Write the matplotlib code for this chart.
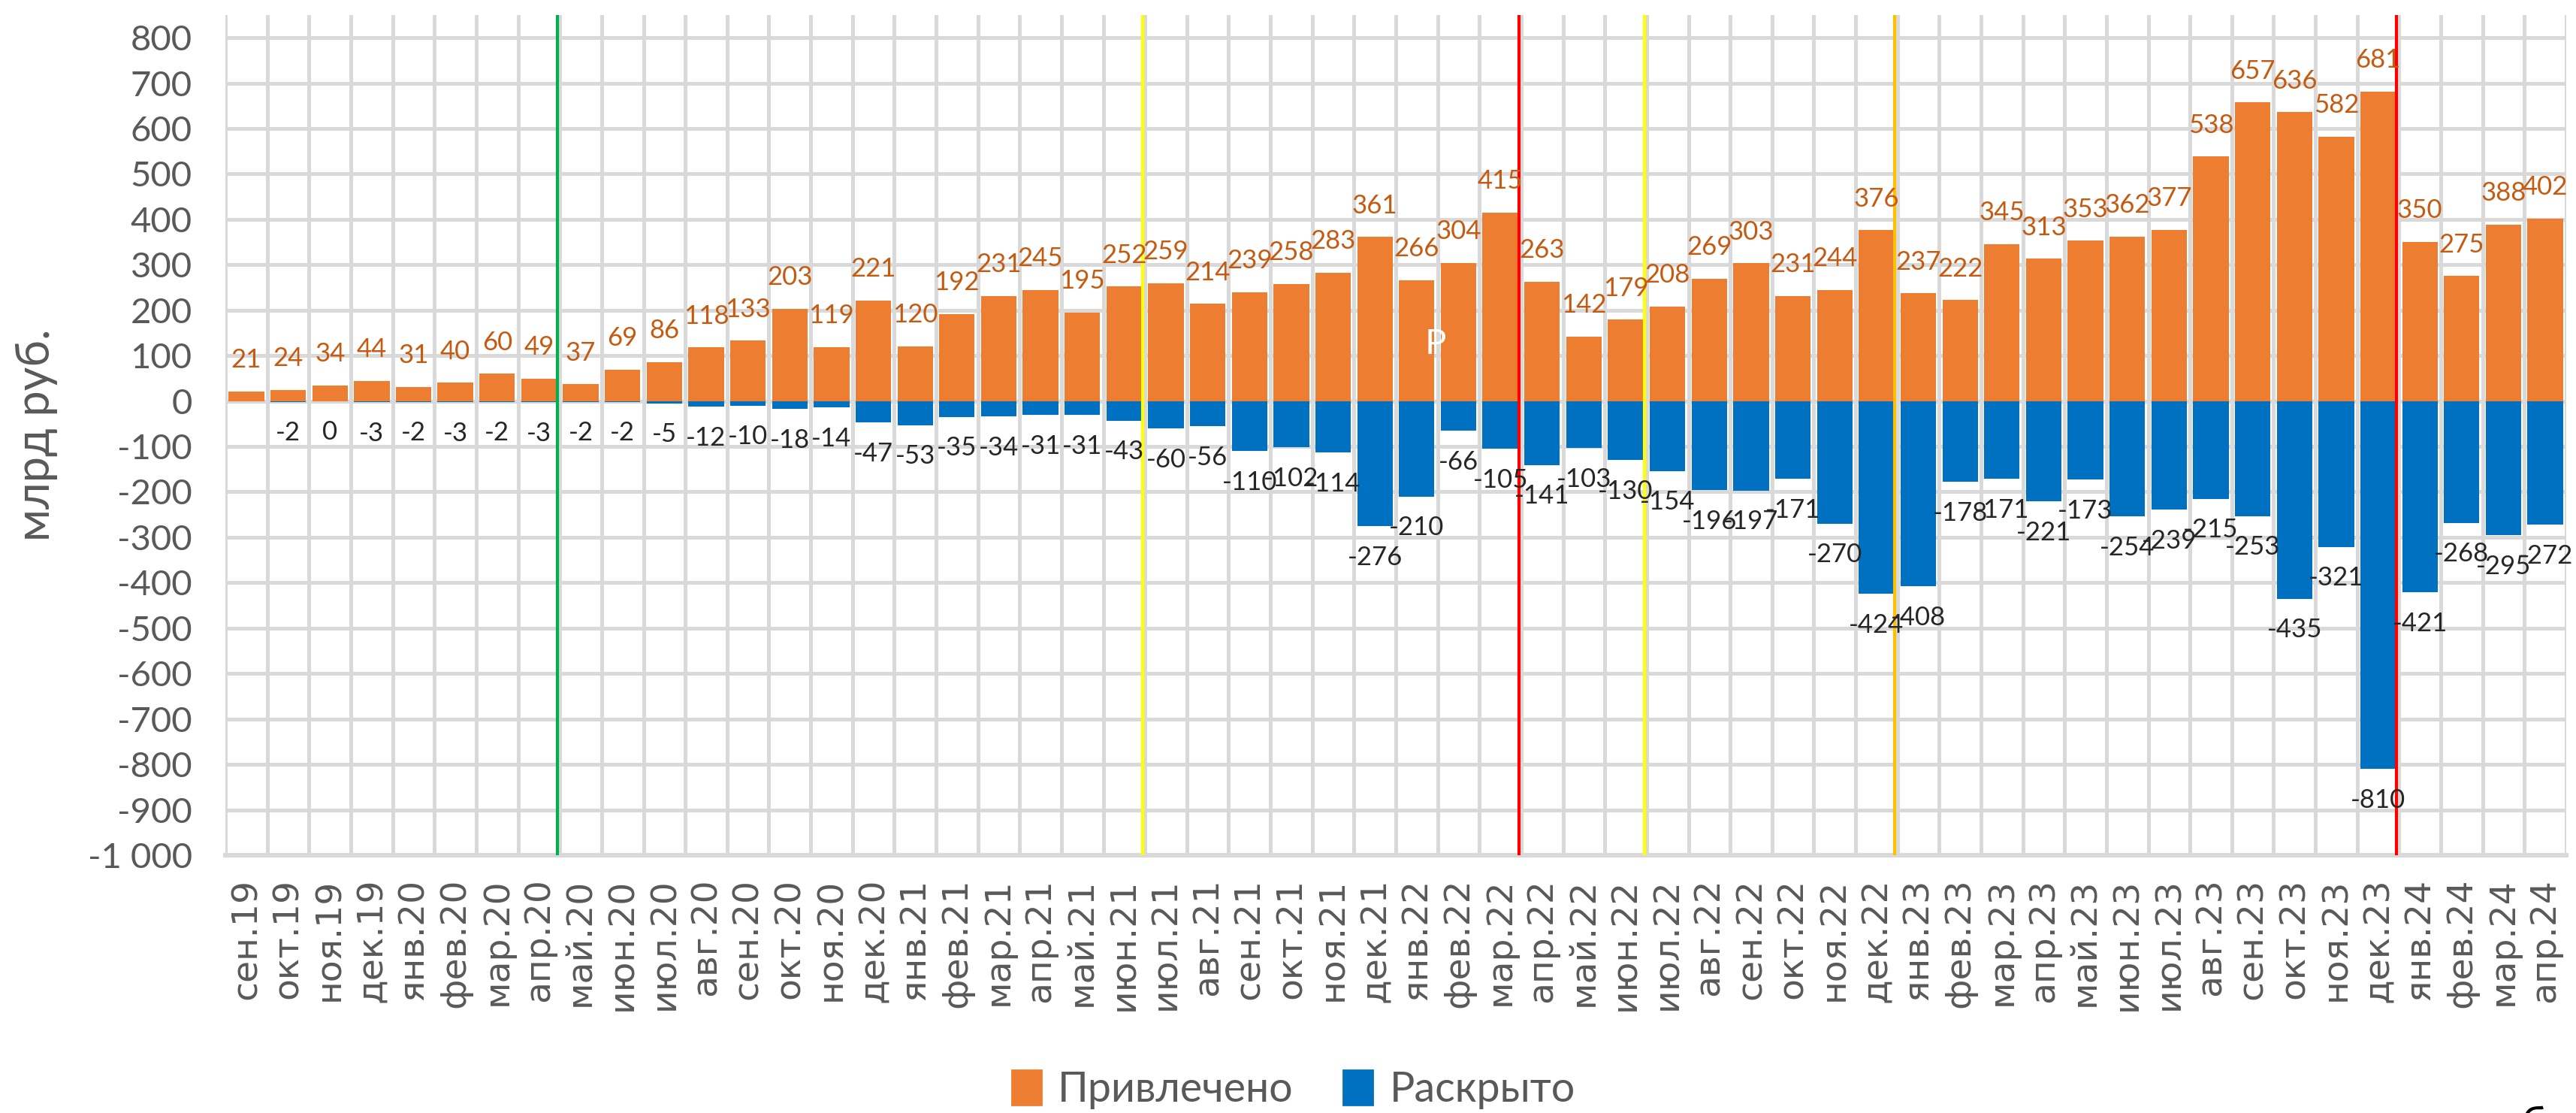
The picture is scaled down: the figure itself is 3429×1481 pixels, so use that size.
import matplotlib.pyplot as plt
import matplotlib.patches as mpatches
import numpy as np

months = ['сен.19', 'окт.19', 'ноя.19', 'дек.19',
          'янв.20', 'фев.20', 'мар.20', 'апр.20', 'май.20', 'июн.20',
          'июл.20', 'авг.20', 'сен.20', 'окт.20', 'ноя.20', 'дек.20',
          'янв.21', 'фев.21', 'мар.21', 'апр.21', 'май.21', 'июн.21',
          'июл.21', 'авг.21', 'сен.21', 'окт.21', 'ноя.21', 'дек.21',
          'янв.22', 'фев.22', 'мар.22', 'апр.22', 'май.22', 'июн.22',
          'июл.22', 'авг.22', 'сен.22', 'окт.22', 'ноя.22', 'дек.22',
          'янв.23', 'фев.23', 'мар.23', 'апр.23', 'май.23', 'июн.23',
          'июл.23', 'авг.23', 'сен.23', 'окт.23', 'ноя.23', 'дек.23',
          'янв.24', 'фев.24', 'мар.24', 'апр.24']

privlecheno = [21, 24, 34, 44,
               31, 40, 60, 49, 37, 69, 86, 118, 133, 203, 119, 221,
               120, 192, 231, 245, 195, 252, 259, 214, 239, 258, 283, 361,
               266, 304, 415, 263, 142, 179, 208, 269, 303, 231, 244, 376,
               237, 222, 345, 313, 353, 362, 377, 538, 657, 636, 582, 681,
               350, 275, 388, 402]

# first month has no disclosed value
raskryto = [np.nan, -2, 0, -3,
            -2, -3, -2, -3, -2, -2, -5, -12, -10, -18, -14, -47,
            -53, -35, -34, -31, -31, -43, -60, -56, -110, -102, -114, -276,
            -210, -66, -105, -141, -103, -130, -154, -196, -197, -171, -270, -424,
            -408, -178, -171, -221, -173, -254, -239, -215, -253, -435, -321, -810,
            -421, -268, -295, -272]

# event markers: (month index after which the line is drawn, colour)
event_after = [7, 21, 30, 33, 39, 51]
event_colors = ['#00B050', '#FFFF00', '#FF0000', '#FFFF00', '#FFC000', '#FF0000']

orange = '#ED7D31'
blue = '#0070C0'
grey_text = '#595959'
grid_c = '#D9D9D9'

fig = plt.figure(figsize=(17.15, 7.405), dpi=200)
ax = fig.add_axes([0.0875, 0.2316, 0.9084, 0.755])

x = np.arange(len(months))
ax.bar(x, privlecheno, width=0.85, color=orange, zorder=3)
ax.bar(x, raskryto, width=0.85, color=blue, zorder=3)

for xi, v in zip(x, privlecheno):
    ax.annotate(str(v), (xi, v), xytext=(0, 15), textcoords='offset points',
                ha='center', va='center', fontsize=12.5, family='Lato',
                color='#C55A11', zorder=5)
for xi, v in zip(x, raskryto):
    if np.isnan(v):
        continue
    ax.annotate(str(int(v)), (xi, v), xytext=(0, -15), textcoords='offset points',
                ha='center', va='center', fontsize=12.5, family='Lato',
                color='#262626', zorder=5)

for i, c in zip(event_after, event_colors):
    ax.axvline(i + 0.44, color=c, lw=1.5, zorder=4)

ax.text(28.45, 125, 'Р', color='white', fontsize=17, family='Lato',
        ha='center', va='center', zorder=5)

ax.set_xlim(-0.5, len(months) - 0.5)
ax.set_ylim(-1000, 850)
ax.set_yticks(np.arange(-1000, 801, 100))
ax.set_yticklabels(['-1 000' if t == -1000 else str(t) for t in range(-1000, 801, 100)],
                   family='Lato', fontsize=17, color=grey_text)
ax.set_xticks(x)
ax.set_xticklabels(months, rotation=90, fontsize=17, color=grey_text)
ax.set_xticks(np.arange(-0.5, len(months)), minor=True)

ax.grid(axis='y', color=grid_c, lw=1.8, zorder=0)
ax.grid(axis='x', which='minor', color=grid_c, lw=1.8, zorder=0)
ax.tick_params(axis='both', which='both', length=0)
ax.tick_params(axis='x', pad=11)
ax.tick_params(axis='y', pad=16)
for s in ['top', 'right', 'left']:
    ax.spines[s].set_visible(False)
ax.spines['bottom'].set_color(grid_c)
ax.spines['bottom'].set_linewidth(2.2)

ax.set_ylabel('млрд руб.', family='Lato', fontsize=22, color=grey_text)
ax.yaxis.set_label_coords(-0.0715, 0.5)

handles = [mpatches.Patch(color=orange, label='Привлечено'),
           mpatches.Patch(color=blue, label='Раскрыто')]
fig.legend(handles=handles, loc='center', bbox_to_anchor=(0.502, 0.021), ncol=2,
           frameon=False, prop={'family': 'Lato', 'size': 20},
           labelcolor=grey_text, handlelength=0.7, handleheight=0.9,
           handletextpad=0.4, columnspacing=1.2)

fig.text(0.9787, 0.006, 'б', fontsize=20, color='black', ha='left', va='top')

fig.savefig('out.png', dpi=200)
